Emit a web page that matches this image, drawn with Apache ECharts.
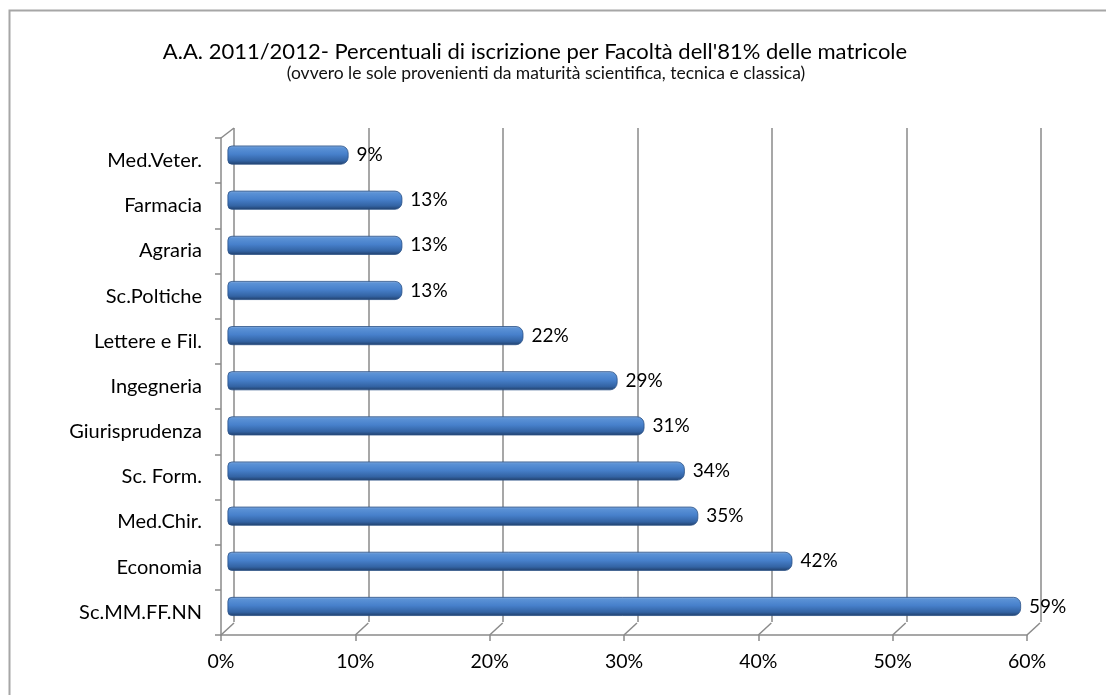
<!DOCTYPE html>
<html>
<head>
<meta charset="utf-8">
<script src="https://cdn.jsdelivr.net/npm/echarts@6/dist/echarts.min.js"></script>
<style>
html,body{margin:0;padding:0;background:#fff;}
#chart{width:1106px;height:695px;}
</style>
</head>
<body>
<div id="chart"></div>
<script>
const titleText = "A.A. 2011/2012- Percentuali di iscrizione per Facoltà dell'81% delle matricole";
const subtitleText = "(ovvero le sole provenienti da maturità scientifica, tecnica e classica)";
const categories = ['Med.Veter.','Farmacia','Agraria','Sc.Poltiche','Lettere e Fil.','Ingegneria','Giurisprudenza','Sc. Form.','Med.Chir.','Economia','Sc.MM.FF.NN'];
const values = [9,13,13,13,22,29,31,34,35,42,59];
const xTicks = [0,10,20,30,40,50,60];

const FONT = 'Lato';
const GRID_COLOR = '#8a8a8a';

const chart = echarts.init(document.getElementById('chart'));
const xMin = 0, xMax = 60, xInt = 10;

chart.setOption({
  animation: false,
  backgroundColor: '#fff',
  title: [
    {text: titleText, left: 530, top: 36, textAlign: 'center',
     textStyle: {fontFamily: FONT, fontSize: 22, fontWeight: 'normal', color: '#000'}},
    {text: subtitleText, left: 541, top: 59, textAlign: 'center',
     textStyle: {fontFamily: FONT, fontSize: 17.5, fontWeight: 'normal', color: '#111'}}
  ],
  graphic: [
    {type: 'rect', shape: {x: 9.5, y: 10.5, width: 1300, height: 900},
     style: {fill: 'none', stroke: '#a6a6a6', lineWidth: 2}, silent: true, z: -10}
  ],
  grid: [
    {left: 234, right: 65, top: 128, bottom: 73},
    {left: 221, right: 79, top: 138, bottom: 60},
    {left: 227.5, right: 71.5, top: 132.5, bottom: 66}
  ],
  xAxis: [
    {gridIndex: 0, type: 'value', min: xMin, max: xMax, interval: xInt,
     axisLine: {show: false}, axisTick: {show: false}, axisLabel: {show: false},
     splitLine: {show: true, lineStyle: {color: GRID_COLOR, width: 1.5}}},
    {gridIndex: 1, type: 'value', min: xMin, max: xMax, interval: xInt,
     axisLine: {show: true, onZero: false, lineStyle: {color: GRID_COLOR, width: 1.5}},
     axisTick: {show: true, inside: false, length: 6, lineStyle: {color: GRID_COLOR, width: 1.5}},
     axisLabel: {show: true, formatter: '{value}%', margin: 17,
       fontFamily: FONT, fontSize: 19.5, color: '#000'},
     splitLine: {show: false}},
    {gridIndex: 2, type: 'value', min: xMin, max: xMax, interval: xInt,
     show: false, splitLine: {show: false}}
  ],
  yAxis: [
    {gridIndex: 0, type: 'category', data: categories, inverse: true, show: false},
    {gridIndex: 1, type: 'category', data: categories, inverse: true,
     axisLine: {show: true, lineStyle: {color: GRID_COLOR, width: 1.5}},
     axisTick: {show: true, length: 6, alignWithLabel: false, lineStyle: {color: GRID_COLOR, width: 1.5}},
     axisLabel: {show: true, margin: 19, fontFamily: FONT, fontSize: 20, color: '#000'},
     splitLine: {show: false}},
    {gridIndex: 2, type: 'category', data: categories, inverse: true, show: false}
  ],
  series: [
    {
      type: 'custom', xAxisIndex: 1, yAxisIndex: 1, silent: true, z: 1,
      data: xTicks,
      renderItem: function (params, api) {
        const v = api.value(0);
        const cs = params.coordSys;
        const x = api.coord([v, 0])[0];
        const yb = cs.y + cs.height;
        const children = [{type: 'line', shape: {x1: x, y1: yb, x2: x + 13, y2: yb - 12},
          style: {stroke: GRID_COLOR, lineWidth: 1.5}}];
        if (params.dataIndex === 0) {
          children.push({type: 'line', shape: {x1: x, y1: cs.y, x2: x + 13, y2: cs.y - 10},
            style: {stroke: GRID_COLOR, lineWidth: 1.5}});
        }
        return {type: 'group', children: children};
      }
    },
    {
      type: 'bar', xAxisIndex: 2, yAxisIndex: 2, z: 5,
      data: values,
      barWidth: 19,
      itemStyle: {
        color: new echarts.graphic.LinearGradient(0, 0, 0, 1, [
          {offset: 0, color: '#8fb0dc'},
          {offset: 0.12, color: '#5b92d6'},
          {offset: 0.45, color: '#4780cb'},
          {offset: 0.8, color: '#3363a3'},
          {offset: 1, color: '#203e69'}
        ]),
        borderColor: '#2b5287', borderWidth: 0.8,
        borderRadius: [4, 7, 7, 4]
      },
      label: {show: true, position: 'right', distance: 8, formatter: '{c}%',
        fontFamily: FONT, fontSize: 19, color: '#000'}
    }
  ]
});
</script>
</body>
</html>
